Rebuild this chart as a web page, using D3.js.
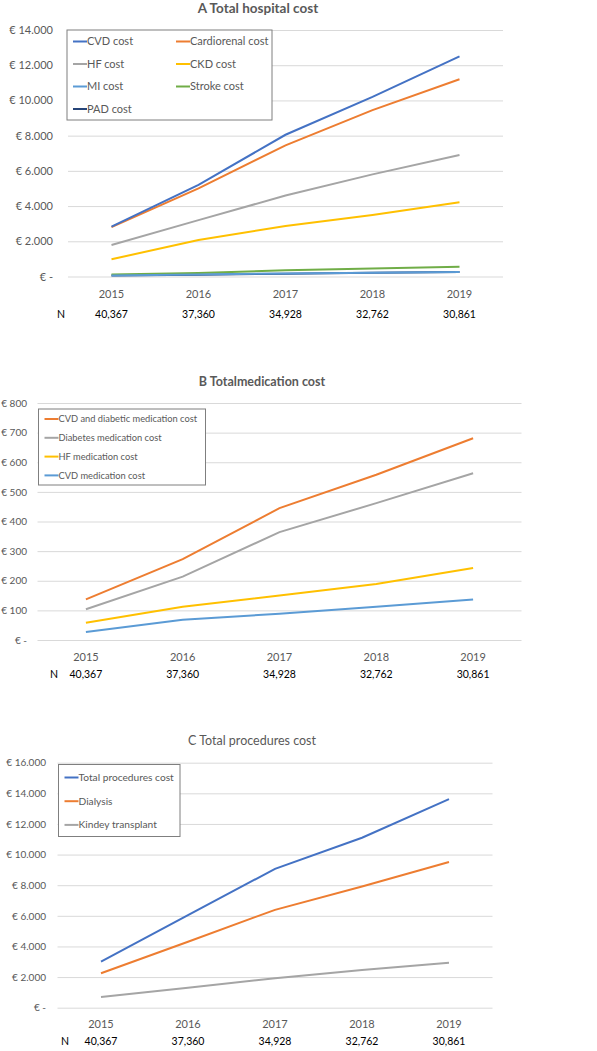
<!DOCTYPE html>
<html><head><meta charset="utf-8">
<script src="https://cdn.jsdelivr.net/npm/d3@7"></script>
<style>body{margin:0;background:#fff}svg{display:block}text{font-family:Lato,"Open Sans",sans-serif}</style>
</head><body><svg id="c" width="597" height="1051"></svg>
<script>
const years = ["2015","2016","2017","2018","2019"];
const nValues = ["40,367","37,360","34,928","32,762","30,861"];

// Panel A – hospital cost
const cvdCost = [2830, 5200, 8050, 10200, 12500];
const cardiorenalCost = [2800, 5000, 7450, 9450, 11200];
const hfCost = [1790, 3200, 4600, 5800, 6900];
const ckdCost = [980, 2070, 2870, 3490, 4220];
const miCost = [60, 120, 170, 220, 260];
const strokeCost = [110, 200, 350, 460, 560];
const padCost = [50, 100, 160, 210, 250];
const ticksA = [0, 2000, 4000, 6000, 8000, 10000, 12000, 14000];

// Panel B – medication cost
const cvdDiabMed = [137, 273, 445, 558, 681];
const diabMed = [104, 214, 364, 462, 563];
const hfMed = [58, 112, 150, 189, 243];
const cvdMed = [27, 68, 89, 112, 137];
const ticksB = [0, 100, 200, 300, 400, 500, 600, 700, 800];

// Panel C – procedures cost
const totalProc = [3010, 6040, 9070, 11100, 13620];
const dialysis = [2250, 4310, 6390, 7920, 9520];
const kidneyTx = [700, 1310, 1920, 2460, 2940];
const ticksC = [0, 2000, 4000, 6000, 8000, 10000, 12000, 14000, 16000];

const C = {blue:"#4472C4", orange:"#ED7D31", gray:"#A5A5A5", gold:"#FFC000", lblue:"#5B9BD5", green:"#70AD47", dblue:"#264478"};

function fmt(v){ return v === 0 ? "€ -" : "€ " + d3.format(",")(v).replace(/,/g, "."); }

const svg = d3.select("#c");

function panel(o){
  const g = svg.append("g");
  const x = d3.scaleBand().domain(years).range([o.x0, o.x1]);
  const y = d3.scaleLinear().domain([0, o.ticks[o.ticks.length-1]]).range([o.yb, o.yt]);
  g.append("text").attr("x", o.tx).attr("y", o.ty).attr("text-anchor","middle")
    .attr("font-size", o.tfs).attr("font-weight", o.bold ? "bold" : "normal").attr("fill","#595959").text(o.title);
  const ax = g.append("g").attr("transform", `translate(${o.x0},0)`)
    .call(d3.axisLeft(y).tickValues(o.ticks).tickSize(o.x0 - o.x1).tickFormat(fmt));
  ax.select(".domain").remove();
  ax.selectAll(".tick line").attr("stroke","#d9d9d9").attr("stroke-width",1);
  ax.selectAll(".tick text").attr("x", o.lx - o.x0).attr("dy","0.32em").attr("font-size", o.afs).attr("fill","#595959")
    .attr("font-family","Lato,'Open Sans',sans-serif");
  const cx = d => x(d) + x.bandwidth()/2;
  g.selectAll(".yr").data(years).join("text").attr("x", cx).attr("y", o.yy).attr("text-anchor","middle")
    .attr("font-size", 11).attr("fill","#595959").text(d => d);
  g.append("text").attr("x", o.nx).attr("y", o.ny).attr("text-anchor","middle").attr("font-size",10.5).attr("fill","#000").text("N");
  g.selectAll(".nv").data(nValues).join("text").attr("x", (d,i) => cx(years[i])).attr("y", o.ny).attr("text-anchor","middle")
    .attr("font-size", 10.5).attr("fill","#000").text(d => d);
  const line = d3.line().x((d,i) => cx(years[i])).y(d => y(d));
  o.series.slice().reverse().forEach(s => {
    g.append("path").datum(s.values).attr("d", line).attr("fill","none").attr("stroke", s.color).attr("stroke-width", 2);
  });
  // legend
  const L = o.legend;
  g.append("rect").attr("x", L.x).attr("y", L.y).attr("width", L.w).attr("height", L.h)
    .attr("fill","#fff").attr("stroke","#7f7f7f").attr("stroke-width",1);
  o.series.forEach((s,i) => {
    const col = i % L.cols, row = Math.floor(i / L.cols);
    const lx = L.x + 6 + col * L.colW, ly = L.y + L.r0 + row * L.rowH;
    g.append("line").attr("x1", lx).attr("x2", lx + 14).attr("y1", ly).attr("y2", ly).attr("stroke", s.color).attr("stroke-width", 2);
    g.append("text").attr("x", lx + 14).attr("y", ly).attr("dy","0.35em").attr("font-size", L.fs).attr("fill","#595959").text(s.name);
  });
}

panel({title:"A Total hospital cost", bold:true, tfs:13.5, afs:11, tx:258, ty:13, x0:68, x1:503, yt:30, yb:276.5, lx:53, ticks:ticksA,
  yy:298, ny:318, nx:61,
  series:[{name:"CVD cost",values:cvdCost,color:C.blue},{name:"Cardiorenal cost",values:cardiorenalCost,color:C.orange},
          {name:"HF cost",values:hfCost,color:C.gray},{name:"CKD cost",values:ckdCost,color:C.gold},
          {name:"MI cost",values:miCost,color:C.lblue},{name:"Stroke cost",values:strokeCost,color:C.green},
          {name:"PAD cost",values:padCost,color:C.dblue}],
  legend:{x:67, y:30, w:205, h:90, cols:2, colW:103, r0:11.5, rowH:22.5, fs:11}});

panel({title:"B Totalmedication cost", bold:true, tfs:12.5, afs:10, tx:262, ty:386, x0:37.5, x1:521.5, yt:403, yb:640, lx:27, ticks:ticksB,
  yy:661, ny:678, nx:54,
  series:[{name:"CVD and diabetic medication cost",values:cvdDiabMed,color:C.orange},{name:"Diabetes medication cost",values:diabMed,color:C.gray},
          {name:"HF medication cost",values:hfMed,color:C.gold},{name:"CVD medication cost",values:cvdMed,color:C.lblue}],
  legend:{x:38.5, y:409, w:167, h:76, cols:1, colW:0, r0:10, rowH:18.8, fs:9.3}});

panel({title:"C Total procedures cost", bold:false, tfs:12.5, afs:10, tx:252, ty:745, x0:57.5, x1:492.5, yt:762.7, yb:1007.7, lx:46, ticks:ticksC,
  yy:1028, ny:1045, nx:65,
  series:[{name:"Total procedures cost",values:totalProc,color:C.blue},{name:"Dialysis",values:dialysis,color:C.orange},
          {name:"Kindey transplant",values:kidneyTx,color:C.gray}],
  legend:{x:58.5, y:764.5, w:121.5, h:72, cols:1, colW:0, r0:13, rowH:23.7, fs:10.2}});
</script></body></html>
